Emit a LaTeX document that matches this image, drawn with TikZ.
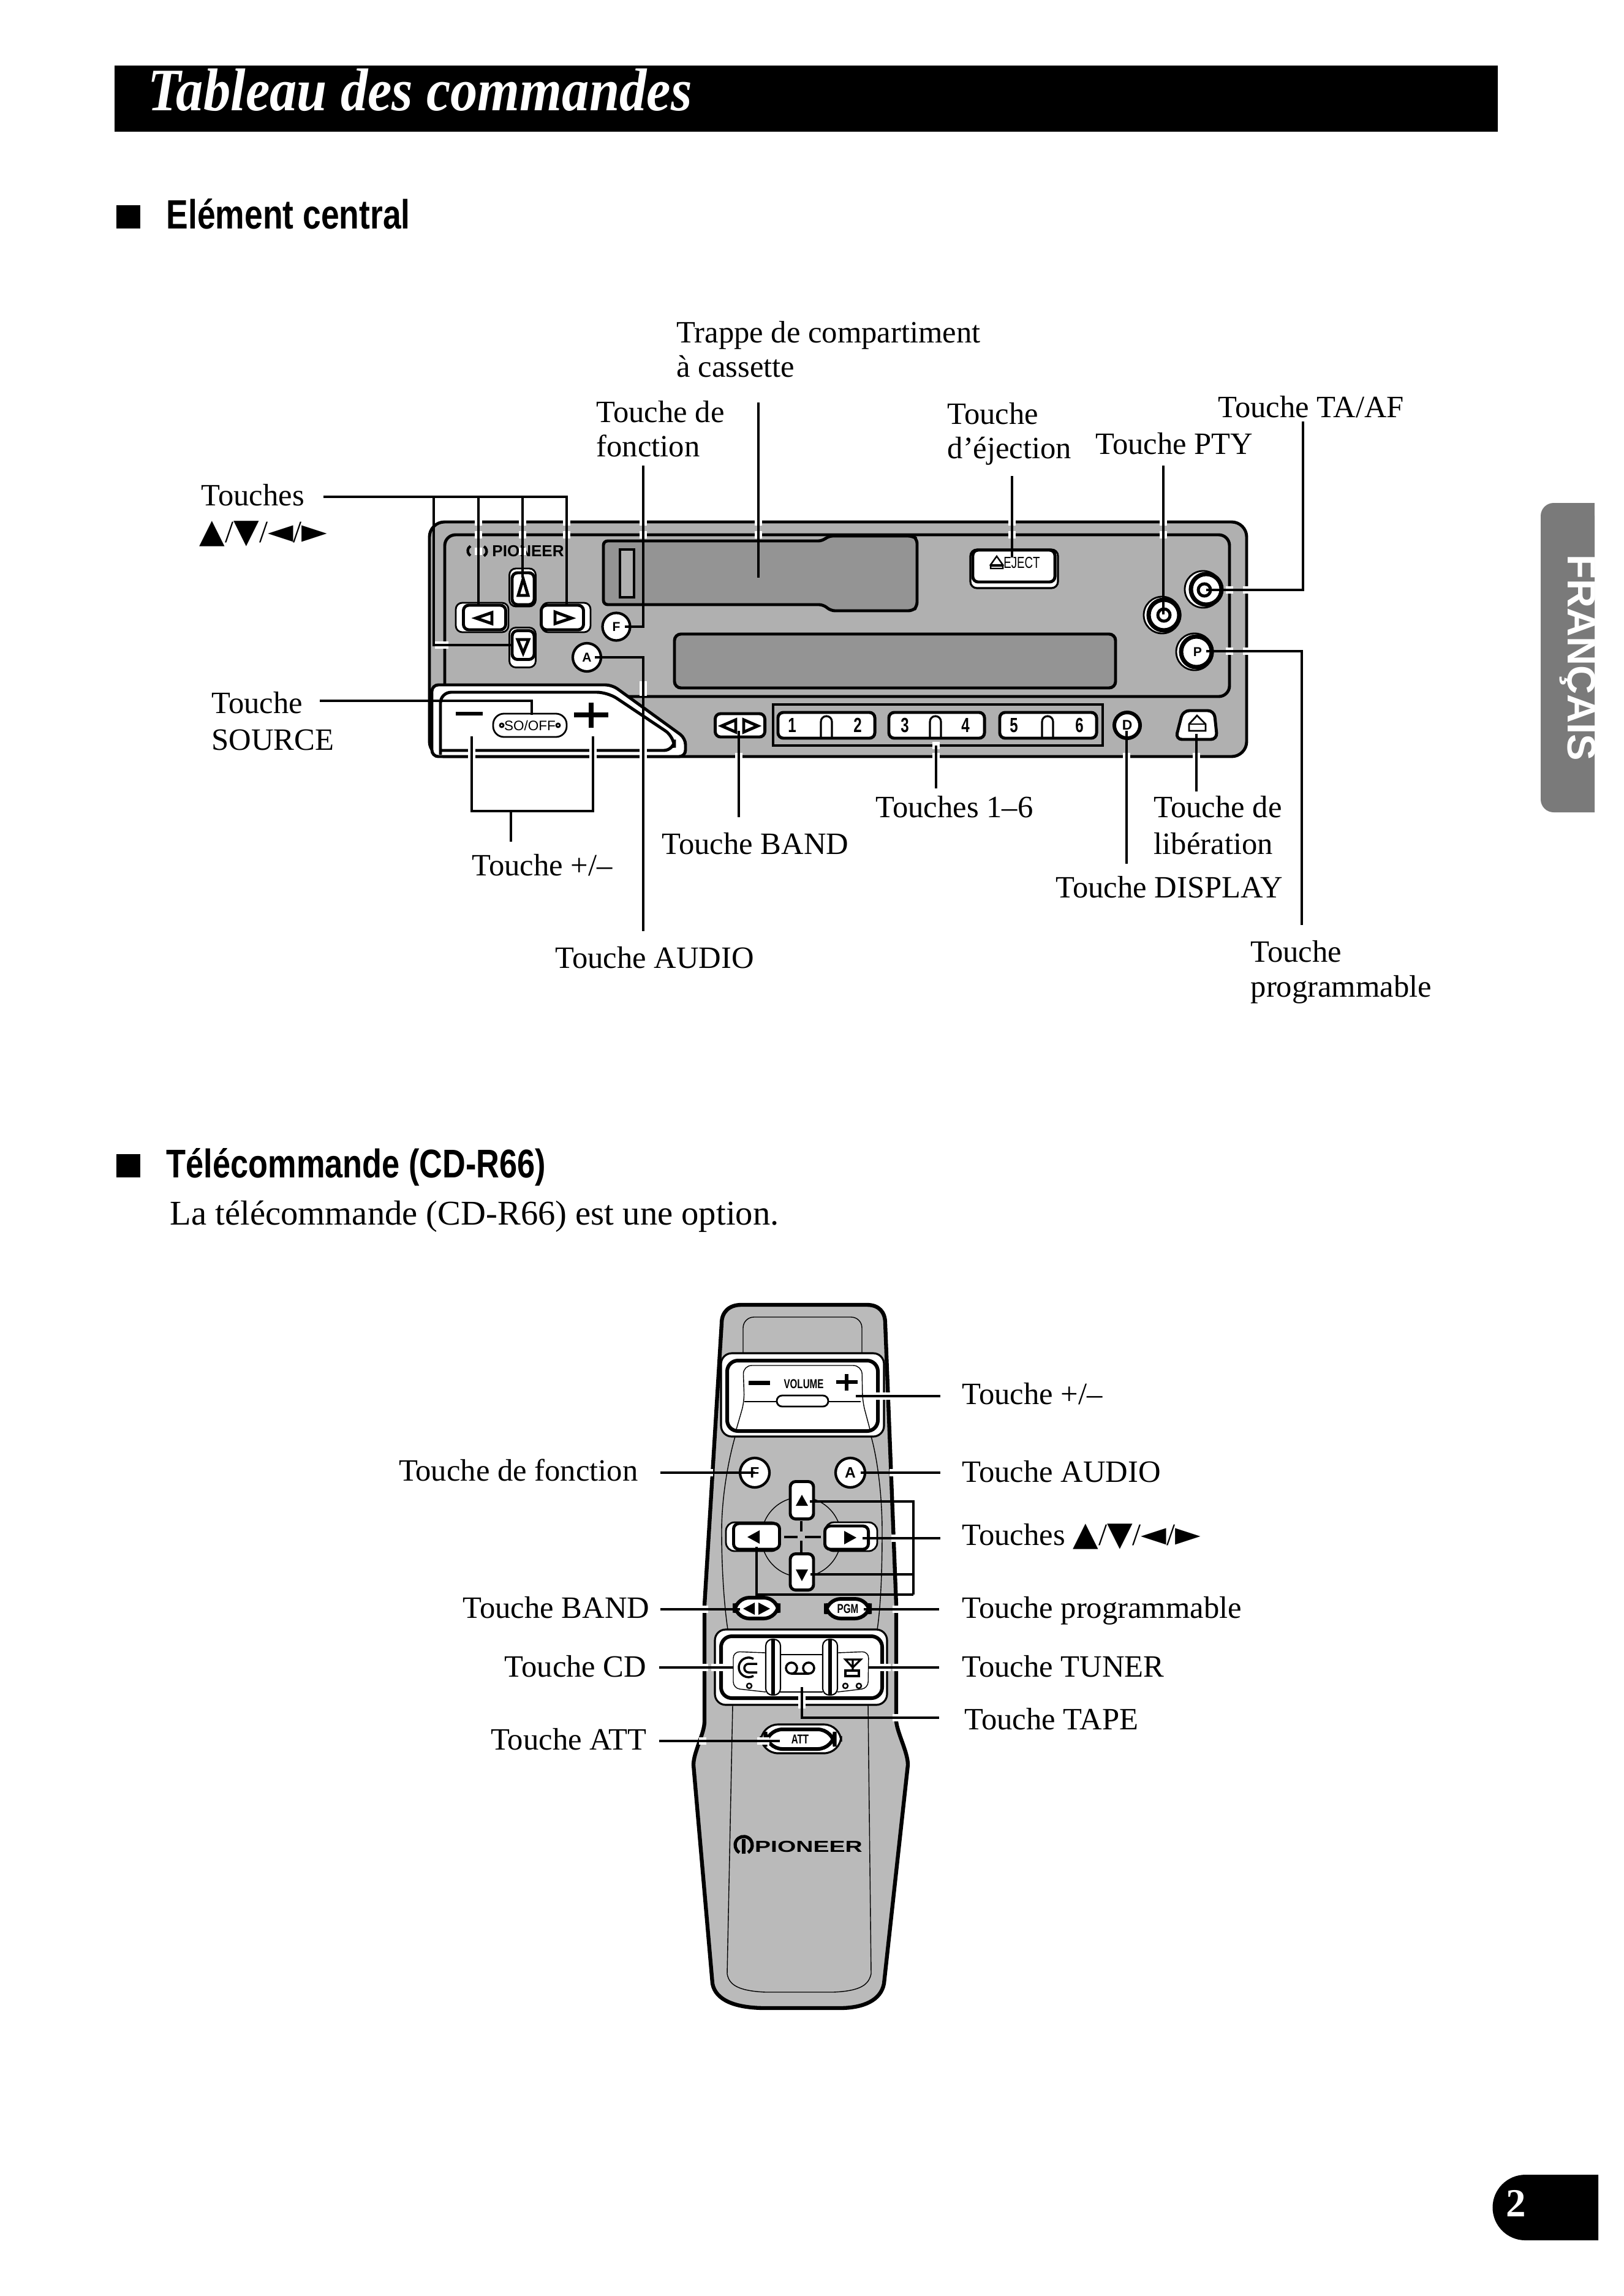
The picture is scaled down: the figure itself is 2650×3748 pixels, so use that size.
\documentclass[tikz,border=0pt]{standalone}
\usepackage{fontspec}
\setmainfont{Liberation Serif}
\newfontfamily\sansfont{Liberation Sans}
\newfontfamily\titlefont[FakeStretch=0.9]{Liberation Serif}
\newfontfamily\headfont[FakeStretch=0.8]{Liberation Sans}
\newfontfamily\narrowfont[FakeStretch=0.72]{Liberation Sans}
\newfontfamily\logofont[FakeStretch=1.5]{Liberation Sans}
\newfontfamily\symfont{DejaVu Sans}
\newcommand{\keyglyph}[1]{{\symfont\fontsize{15.4}{15.4}\selectfont #1}}
\newcommand{\arrowkeys}{\keyglyph{▲}/\keyglyph{▼}/\keyglyph{◄}/\keyglyph{►}}
\colorlet{halftone}{black!31}
\colorlet{remotetone}{black!27}
\colorlet{darktone}{black!42}
\tikzset{
  lbl/.style={inner sep=0pt,anchor=base west,font=\fontsize{14.4}{17}\selectfont},
  lblr/.style={lbl,anchor=base east},
  lbltwo/.style={inner sep=0pt,anchor=west,align=left,font=\fontsize{14.4}{16}\selectfont},
  leader/.style={line width=0.9pt},
  outline/.style={line width=1.4pt},
  thinline/.style={line width=0.4pt},
  btn/.style={draw,fill=white,line width=1.4pt,rounded corners=2.5pt,inner sep=0pt},
  rbtn/.style={draw,fill=white,circle,line width=1.2pt,inner sep=0pt},
  keytext/.style={inner sep=0pt,font=\sansfont\bfseries\fontsize{6}{6}\selectfont},
  numkey/.style={inner sep=0pt,font=\narrowfont\bfseries\fontsize{9.5}{9.5}\selectfont},
  head/.style={inner sep=0pt,anchor=base west,font=\headfont\bfseries\fontsize{19}{19}\selectfont},
}

\begin{document}
\begin{tikzpicture}[x=0.01cm,y=-0.01cm]
\useasboundingbox (0,0) rectangle (2650,3748);

% title and headings
\fill[black] (187,107) rectangle (2445,215);
\node[inner sep=0pt,anchor=base west,text=white,font=\titlefont\itshape\bfseries\fontsize{28}{28}\selectfont] (title) at (241,180) {Tableau des commandes};
\fill[black] (190,335) rectangle (229,373);
\node[head] (headA) at (271,373) {Elément central};
\fill[black] (190,1884) rectangle (229,1922);
\node[head,font=\headfont\bfseries\fontsize{18.6}{18.6}\selectfont] (headB) at (271,1922) {Télécommande (CD-R66)};
\node[lbl,font=\fontsize{16.1}{17}\selectfont] (intro) at (277,1999) {La télécommande (CD-R66) est une option.};

% side tab and page number
\fill[black!52,rounded corners=6pt] (2515,821) -- (2603,821) [sharp corners] -- (2603,1326) [rounded corners=6pt] -- (2515,1326) -- cycle;
\fill[black!52] (2560,821) rectangle (2603,1326);
\node[rotate=-90,text=white,inner sep=0pt,font=\sansfont\bfseries\fontsize{18.5}{18.5}\selectfont] (tab) at (2575,1074) {FRANÇAIS};
\fill[black] (2609,3550) -- (2490,3550) arc[start angle=90,end angle=270,radius=0.535cm] -- (2609,3657) -- cycle;
\node[text=white,inner sep=0pt,font=\bfseries\fontsize{18.5}{18.5}\selectfont] (pagenum) at (2475,3597) {2};

%% head unit
\draw[outline,fill=halftone,rounded corners=7pt] (701,852) rectangle (2035,1235);
\draw[outline,rounded corners=5pt] (726,873) rectangle (2007,1137);
\draw[outline,fill=darktone,rounded corners=2pt] (985,883) -- (1343,883) -- (1352,875) -- (1490,875) -- (1497,880) -- (1497,990) -- (1490,997) -- (1356,997) -- (1344,987) -- (985,987) -- cycle;
\draw[outline,fill=halftone] (1012,897) rectangle (1035,975);
\draw[outline,fill=darktone,rounded corners=3pt] (1101,1035) rectangle (1821,1123);
% source panel
\draw[outline,fill=white,rounded corners=3pt] (705,1235) -- (705,1118) -- (999,1118) -- (1119,1205) -- (1119,1235) -- cycle;
\draw[outline,rounded corners=5pt] (719,1232) -- (719,1130) -- (992,1130) -- (1101,1203) -- (1101,1225) -- (719,1225);
\fill[black] (744,1162) rectangle (788,1168);
\draw[line width=2pt] (937,1167) -- (993,1167) (965,1147) -- (965,1188);
\node[btn,minimum width=1.2cm,minimum height=0.38cm,rounded corners=5pt,line width=0.8pt] (btnSource) at (865,1184) {};
\node[inner sep=0pt,font=\sansfont\fontsize{6.4}{6.4}\selectfont] (txtSource) at (865,1184) {SO/OFF};
\draw[line width=0.8pt] (819,1184) circle[radius=0.03cm] (911,1184) circle[radius=0.03cm];
% arrow keys
\foreach \ax/\ay/\aw/\ah in {787/1008/86/48,924/1008/80/48,853/959/43/62,853/1057/43/65}
  \draw[line width=0.8pt,fill=white,rounded corners=3pt] (\ax-\aw/2,\ay-\ah/2) rectangle (\ax+\aw/2,\ay+\ah/2);
\node[btn,minimum width=0.69cm,minimum height=0.40cm] (btnLeft) at (791,1008) {};
\node[btn,minimum width=0.69cm,minimum height=0.40cm] (btnRight) at (918,1008) {};
\node[btn,minimum width=0.36cm,minimum height=0.52cm] (btnUp) at (854,961) {};
\node[btn,minimum width=0.36cm,minimum height=0.47cm] (btnDown) at (854,1053) {};
\draw[outline] (803,1000) -- (777,1009) -- (803,1018) -- cycle;
\draw[outline] (906,999) -- (933,1009) -- (906,1018) -- cycle;
\draw[outline] (854,945) -- (846,972) -- (862,972) -- cycle;
\draw[outline] (845,1044) -- (863,1044) -- (854,1066) -- cycle;
\node[rbtn,minimum size=0.45cm,font=\sansfont\bfseries\fontsize{6}{6}\selectfont] (btnF) at (1006,1023) {F};
\node[rbtn,minimum size=0.46cm,font=\sansfont\bfseries\fontsize{6}{6}\selectfont] (btnA) at (958,1073) {A};
% logo on the panel
\draw[line width=1.2pt] (768,907) arc[start angle=240,end angle=120,radius=0.09cm] (790,892) arc[start angle=60,end angle=-60,radius=0.09cm];
\node[inner sep=0pt,font=\sansfont\bfseries\fontsize{7.4}{7.4}\selectfont] (logoA) at (862,900) {PIONEER};
% preset strip
\draw[line width=0.9pt] (1262,1150) rectangle (1800,1217);
\node[btn,minimum width=0.81cm,minimum height=0.38cm] (btnBand) at (1208,1184) {};
\draw[outline] (1201,1175) -- (1178,1185) -- (1201,1195) -- cycle (1214,1175) -- (1237,1185) -- (1214,1195) -- cycle;
\node[btn,minimum width=1.58cm,minimum height=0.42cm] (btnOneTwo) at (1349,1184) {};
\node[btn,minimum width=1.56cm,minimum height=0.42cm] (btnThreeFour) at (1529,1184) {};
\node[btn,minimum width=1.58cm,minimum height=0.42cm] (btnFiveSix) at (1711,1184) {};
\foreach \ax in {1349,1527,1710}
  \draw[line width=0.9pt] (\ax-9,1205) -- (\ax-9,1178) arc[start angle=180,end angle=0,radius=0.09cm] -- (\ax+9,1205);
\foreach \ax/\num in {1293/1,1400/2,1477/3,1576/4,1655/5,1762/6}
  \node[numkey] (num\num) at (\ax,1184) {\num};
\node[rbtn,minimum size=0.42cm,line width=1.7pt,font=\sansfont\bfseries\fontsize{6.5}{6.5}\selectfont] (btnD) at (1840,1184) {D};
\draw[outline,fill=white,rounded corners=3pt] (1931,1160) -- (1982,1160) -- (1987,1207) -- (1919,1207) -- cycle;
\draw[line width=0.8pt] (1941,1193) -- (1941,1182) -- (1954,1168) -- (1968,1182) -- (1968,1193) -- cycle;
\draw[line width=0.8pt] (1941,1182) -- (1968,1182);
% eject and round keys
\draw[line width=0.9pt,fill=white,rounded corners=3pt] (1584,897) rectangle (1727,960);
\node[btn,minimum width=1.34cm,minimum height=0.52cm] (btnEject) at (1655,924) {};
\draw[line width=0.7pt] (1627,908) -- (1617,922) -- (1637,922) -- cycle (1617,924) rectangle (1637,928);
\node[inner sep=0pt,font=\narrowfont\fontsize{7.4}{7.4}\selectfont] (txtEject) at (1668,919) {EJECT};
\node[rbtn,minimum size=0.60cm,line width=0.8pt] (btnG) at (1964,962) {};
\draw[line width=2pt] (1969,962) circle[radius=0.25cm];
\draw[outline] (1966,963) circle[radius=0.10cm];
\node[rbtn,minimum size=0.60cm,line width=0.8pt] (btnPty) at (1897,1004) {};
\draw[line width=2pt] (1900,1004) circle[radius=0.25cm];
\draw[outline] (1900,1004) circle[radius=0.10cm];
\node[rbtn,minimum size=0.60cm,line width=0.8pt] (btnP) at (1950,1064) {};
\draw[line width=2pt] (1953,1064) circle[radius=0.25cm];
\node[inner sep=0pt,font=\sansfont\bfseries\fontsize{6}{6}\selectfont] (txtP) at (1955,1064) {P};

%% remote
\draw[line width=1.8pt,fill=remotetone] (1210,2130) -- (1415,2130) .. controls (1435,2130) and (1445,2142) .. (1445,2160) -- (1463,2620) -- (1463,2810) .. controls (1465,2830) and (1482,2860) .. (1482,2881) -- (1443,3238) .. controls (1438,3265) and (1410,3278) .. (1370,3278) -- (1250,3278) .. controls (1200,3278) and (1168,3265) .. (1163,3238) -- (1132,2881) .. controls (1132,2860) and (1150,2830) .. (1150,2810) -- (1150,2620) -- (1178,2160) .. controls (1178,2142) and (1190,2130) .. (1210,2130) -- cycle;
\draw[thinline,rounded corners=5pt] (1213,2209) -- (1213,2150) -- (1407,2150) -- (1407,2209);
\draw[thinline] (1200,2345) .. controls (1190,2380) and (1178,2440) .. (1178,2500) .. controls (1178,2560) and (1182,2620) .. (1188,2660);
\draw[thinline] (1422,2345) .. controls (1432,2380) and (1440,2440) .. (1440,2500) .. controls (1440,2560) and (1438,2620) .. (1432,2660);
\draw[thinline] (1196,2783) -- (1187,3222) .. controls (1190,3240) and (1205,3250) .. (1250,3252) -- (1360,3252) .. controls (1405,3250) and (1418,3240) .. (1422,3222) -- (1417,2783);
% volume
\draw[line width=0.9pt,fill=white,rounded corners=5pt] (1177,2209) rectangle (1443,2345);
\draw[line width=1.7pt,rounded corners=5pt] (1187,2221) rectangle (1433,2336);
\draw[thinline,rounded corners=4pt] (1202,2333) -- (1215,2288) -- (1213,2229) -- (1407,2229) -- (1408,2288) -- (1420,2333);
\draw[thinline] (1215,2288) -- (1405,2288);
\node[btn,line width=0.8pt,minimum width=0.84cm,minimum height=0.18cm] (btnVol) at (1310,2287) {};
\fill[black] (1222,2254) rectangle (1257,2261);
\draw[line width=1.7pt] (1365,2256) -- (1400,2256) (1382,2243) -- (1382,2270);
\node[inner sep=0pt,font=\narrowfont\bfseries\fontsize{6}{6}\selectfont] (txtVol) at (1312,2259) {VOLUME};
% F and A
\node[rbtn,minimum size=0.48cm,font=\sansfont\bfseries\fontsize{7}{7}\selectfont] (remF) at (1232,2404) {F};
\node[rbtn,minimum size=0.48cm,font=\sansfont\bfseries\fontsize{7}{7}\selectfont] (remA) at (1388,2404) {A};
% cross
\draw[thinline] (1308,2509) circle[radius=0.65cm];
\draw[line width=1.2pt] (1280,2509) -- (1302,2509) (1314,2509) -- (1340,2509) (1308,2483) -- (1308,2500) (1308,2515) -- (1308,2535);
\draw[line width=0.8pt,rounded corners=4pt,fill=white] (1185,2485) rectangle (1273,2532);
\draw[line width=0.8pt,rounded corners=4pt,fill=white] (1347,2485) rectangle (1432,2532);
\node[btn,minimum width=0.75cm,minimum height=0.42cm] (remLeft) at (1235,2508) {};
\node[btn,minimum width=0.71cm,minimum height=0.38cm] (remRight) at (1382,2510) {};
\node[btn,minimum width=0.38cm,minimum height=0.61cm] (remUp) at (1309,2449) {};
\node[btn,minimum width=0.38cm,minimum height=0.59cm] (remDown) at (1309,2566) {};
\fill[black] (1309,2440) -- (1299,2458) -- (1319,2458) -- cycle;
\fill[black] (1299,2562) -- (1319,2562) -- (1309,2581) -- cycle;
\fill[black] (1240,2498) -- (1220,2509) -- (1240,2520) -- cycle;
\fill[black] (1378,2499) -- (1398,2510) -- (1378,2521) -- cycle;
% band and pgm
\node[btn,minimum width=0.72cm,minimum height=0.34cm,rounded corners=7pt,line width=1.7pt] (remBand) at (1235,2625) {};
\fill[black] (1232,2616) -- (1213,2626) -- (1232,2636) -- cycle (1238,2616) -- (1257,2626) -- (1238,2636) -- cycle;
\node[btn,minimum width=0.72cm,minimum height=0.32cm,rounded corners=7pt,line width=1.7pt,font=\narrowfont\bfseries\fontsize{6}{6}\selectfont] (remPgm) at (1384,2626) {PGM};
% source keys
\draw[line width=0.9pt,fill=white,rounded corners=5pt] (1167,2660) rectangle (1448,2783);
\draw[line width=1.7pt,rounded corners=5pt] (1177,2671) rectangle (1440,2772);
\draw[thinline,rounded corners=3pt] (1250,2698) -- (1197,2696) -- (1197,2756) -- (1250,2762);
\draw[thinline,rounded corners=3pt] (1367,2698) -- (1418,2696) -- (1417,2756) -- (1367,2762);
\draw[thinline] (1273,2701) -- (1343,2701) (1273,2762) -- (1343,2762);
\foreach \ax in {1262,1355}
  \draw[line width=0.6pt,rounded corners=3pt] (\ax-12,2676) rectangle (\ax+12,2767);
\draw[line width=1.7pt] (1262,2676) -- (1262,2767) (1355,2676) -- (1355,2767);
\draw[line width=1pt] (1236,2716) -- (1222,2716) arc[start angle=90,end angle=270,radius=0.07cm] -- (1236,2730);
\draw[line width=1pt] (1230,2708) arc[start angle=60,end angle=300,radius=0.16cm];
\draw[line width=0.7pt] (1223,2752) circle[radius=0.04cm];
\draw[line width=1pt] (1292,2723) circle[radius=0.09cm] (1320,2723) circle[radius=0.09cm] (1292,2732) -- (1320,2732);
\draw[line width=0.9pt] (1380,2709) -- (1405,2709) -- (1392,2722) -- cycle (1392,2709) -- (1392,2727);
\draw[line width=1pt] (1380,2727) rectangle (1402,2736);
\draw[line width=0.7pt] (1380,2752) circle[radius=0.04cm] (1402,2752) circle[radius=0.04cm];
% att
\draw[line width=0.9pt,fill=white,rounded corners=8pt] (1242,2815) rectangle (1373,2862);
\node[btn,minimum width=1.13cm,minimum height=0.32cm,rounded corners=8pt,line width=1.7pt,font=\narrowfont\bfseries\fontsize{6}{6}\selectfont] (remAtt) at (1306,2839) {ATT};
% logo
\draw[line width=1.5pt] (1207,3024) arc[start angle=240,end angle=-60,radius=0.14cm];
\draw[line width=1.5pt] (1214,3002) -- (1214,3026);
\node[inner sep=0pt,font=\logofont\bfseries\fontsize{7.4}{7.4}\selectfont] (logoB) at (1320,3015) {PIONEER};

% white gaps where the leader lines cross
\foreach \gx/\gy in {781/852,853/852,925/852,1050/852,1238/852,1652/852,1899/852,781/873,853/873,925/873,1050/873,1238/873,1652/873,1899/873,853/900,781/900,726/1053,716/1053,770/1225,770/1235,968/1225,968/1235,1050/1118,1050/1130,1050/1225,1050/1235,1206/1235,1528/1235,1839/1235,1953/1235,1528/1217,2007/963,2035/963,2007/1063,2035/1063,1158/2404,1458/2404,1433/2279,1443/2279,1453/2279,1461/2511,1150/2627,1463/2627,1150/2722,1167/2722,1177/2722,1440/2722,1448/2722,1463/2722,1309/2772,1309/2783,1463/2804,1147/2842,1242/2842,1250/2842}
  \fill[white] (\gx-6,\gy-6) rectangle (\gx+6,\gy+6);

% labels head unit
\node[lbltwo] (lblTrappe) at (1104,570) {Trappe de compartiment\\à cassette};
\node[lbltwo] (lblFonction) at (973,700) {Touche de\\fonction};
\node[lbltwo] (lblEject) at (1546,708) {Touche\\d’éjection};
\node[lbl] (lblTaAf) at (1988,681) {Touche TA/AF};
\node[lbl] (lblPty) at (1788,741) {Touche PTY};
\node[lbl] (lblKeys) at (328,825) {Touches};
\node[lbl] (lblKeysB) at (325,885) {\arrowkeys};
\node[lbltwo,font=\fontsize{14.4}{17}\selectfont] (lblSource) at (345,1177) {Touche\\SOURCE};
\node[lbl] (lblPlus) at (770,1429) {Touche +/–};
\node[lbl] (lblBand) at (1080,1394) {Touche BAND};
\node[lbl] (lblPresets) at (1429,1334) {Touches 1–6};
\node[lbltwo,font=\fontsize{14.4}{17}\selectfont] (lblRelease) at (1883,1347) {Touche de\\libération};
\node[lbl] (lblDisplay) at (1723,1465) {Touche DISPLAY};
\node[lbl] (lblAudio) at (906,1580) {Touche AUDIO};
\node[lbltwo] (lblPgm) at (2041,1587) {Touche\\programmable};

% labels remote
\node[lblr] (rlFonction) at (1042,2417) {Touche de fonction};
\node[lblr] (rlBand) at (1061,2641) {Touche BAND};
\node[lblr] (rlCd) at (1056,2737) {Touche CD};
\node[lblr] (rlAtt) at (1056,2856) {Touche ATT};
\node[lbl] (rlPlus) at (1570,2292) {Touche +/–};
\node[lbl] (rlAudio) at (1570,2419) {Touche AUDIO};
\node[lbl] (rlKeys) at (1570,2522) {Touches \arrowkeys};
\node[lbl] (rlPgm) at (1570,2641) {Touche programmable};
\node[lbl] (rlTuner) at (1570,2737) {Touche TUNER};
\node[lbl] (rlTape) at (1574,2823) {Touche TAPE};

% leaders head unit
\coordinate (lnKeys) at (528,811);
\coordinate (lnKeysEnd) at (925,811);
\coordinate (lnSource) at (522,1144);
\draw[leader] (lnKeys) -- (lnKeysEnd) -- (925,987);
\draw[leader] (708,811) -- (708,1053) -- (btnDown.west);
\draw[leader] (781,811) -- (781,987);
\draw[leader] (853,811) -- (853,943);
\draw[leader] (lnSource) -| (868,1167);
\draw[leader] (1050,760) |- (1020,1023);
\draw[leader] (971,1073) -| (1050,1520);
\draw[leader] (1238,657) -- (1238,943);
\draw[leader] (1652,777) -- (1652,910);
\draw[leader] (1899,760) -- (1899,1003);
\draw[leader] (1969,963) -| (2127,688);
\draw[leader] (1969,1063) -| (2125,1510);
\draw[leader] (770,1202) |- (968,1324) -- (968,1202);
\draw[leader] (834,1324) -- (834,1374);
\draw[leader] (1206,1193) -- (1206,1334);
\draw[leader] (1528,1217) -- (1528,1287);
\draw[leader] (1839,1193) -- (1839,1410);
\draw[leader] (1953,1198) -- (1953,1292);

% leaders remote
\draw[leader] (1397,2279) -- (1535,2279);
\draw[leader] (1078,2404) -- (remF.center);
\draw[leader] (1405,2404) -- (1535,2404);
\draw[leader] (1322,2451) -| (1491,2603);
\draw[leader] (1323,2570) -- (1491,2570);
\draw[leader] (1235,2525) |- (1491,2603);
\draw[leader] (1408,2511) -- (1535,2511);
\draw[leader] (1078,2627) -- (1208,2627);
\draw[leader] (1410,2627) -- (1533,2627);
\draw[leader] (1076,2722) -- (1197,2722);
\draw[leader] (1417,2722) -- (1533,2722);
\draw[leader] (1309,2754) |- (1533,2804);
\draw[leader] (1076,2842) -- (1273,2842);

\end{tikzpicture}
\end{document}
